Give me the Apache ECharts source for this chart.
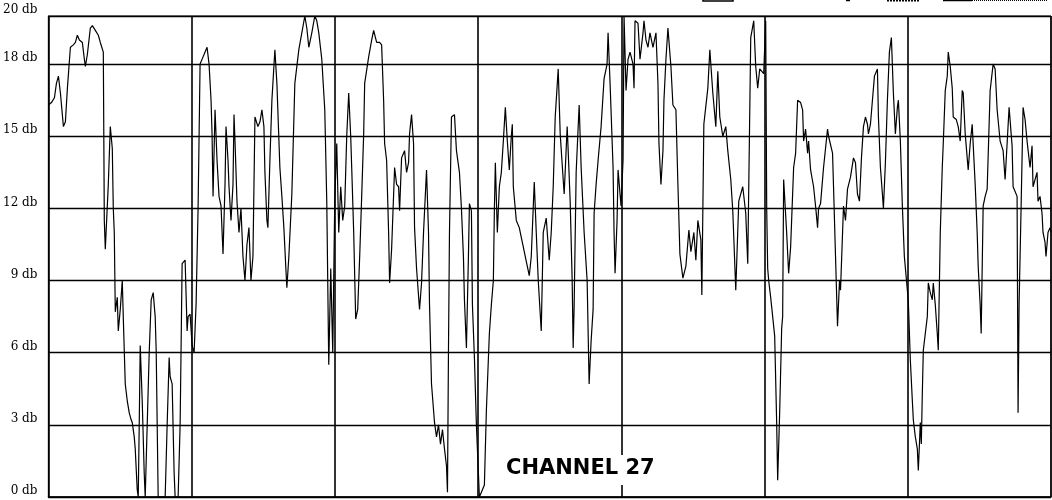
<!DOCTYPE html>
<html>
<head>
<meta charset="utf-8">
<script src="https://cdn.jsdelivr.net/npm/echarts@6/dist/echarts.min.js"></script>
<style>html,body{margin:0;padding:0;background:#fff}#c{width:1052px;height:500px}</style>
</head>
<body>
<div id="c"></div>
<script>
// Signal level trace: [sweep position, level dB]
// sweep runs 0..1005 over 7 grid divisions
const div1 = [[0,16.3],[3,16.4],[6,16.6],[8,17.2],[10,17.5],[12,16.8],[15,15.4],[17,15.6],[19,17.0],[22,18.7],[25,18.8],[27,18.9],[29,19.2],[31,19.0],[34,18.9],[36,18.2],[37,17.9],[39,18.4],[42,19.5],[44,19.6],[47,19.4],[50,19.2],[52,18.9],[55,18.5],[56,11.5],[57,10.3],[60,13.0],[62,15.4],[64,14.5],[65,12.0],[66,11.0],[67,7.7],[69,8.3],[70,6.9],[72,7.8],[74,9.0],[75,7.5],[76,6.1],[77,4.7],[79,4.0],[81,3.5],[83,3.2],[84,3.1],[86,2.5],[87,2.0],[89,0.3],[90,0],[91,3.0],[92,6.3],[94,4.0],[96,1.0],[97,0],[99,0],[101,6.0],[103,8.2],[105,8.5],[107,7.5],[108,6.1],[110,0],[114,0],[117,0],[119,3.0],[121,5.8],[122,5.0],[124,4.7],[126,1.0],[127,0],[130,0],[132,3.0],[134,9.7],[137,9.85],[139,6.9],[140,7.5],[142,7.6]];
const div2 = [[144,6.3],[146,6.0],[148,8.0],[150,12.0],[152,18.0],[155,18.3],[157,18.5],[159,18.7],[161,18.0],[163,16.5],[164,15.1],[165,12.5],[167,16.1],[169,14.0],[171,12.5],[173,12.1],[175,10.1],[177,13.0],[178,15.4],[180,14.0],[181,12.9],[183,11.5],[185,13.0],[186,15.9],[187,14.8],[189,12.3],[191,11.0],[193,12.0],[195,10.0],[197,9.0],[199,10.5],[201,11.2],[203,9.0],[205,10.0],[207,15.8],[210,15.4],[212,15.6],[214,16.1],[216,15.4],[217,13.5],[219,11.5],[220,11.2],[222,14.0],[224,16.5],[227,18.6],[229,17.2],[232,13.7],[234,12.5],[236,11.2],[238,9.5],[239,8.7],[241,10.0],[244,12.6],[247,17.2],[251,18.6],[254,19.3],[257,20.0],[259,19.5],[261,18.7],[264,19.3],[267,20.0],[269,19.8],[271,19.3],[274,18.2],[277,16.1],[279,12.3],[281,5.5],[283,9.5],[285,6.0]];
const div3 = [[287,12.3],[289,14.7],[291,11.0],[293,12.9],[295,11.5],[297,12.1],[299,15.0],[301,16.8],[303,15.0],[304,13.7],[306,11.0],[308,7.4],[310,7.8],[312,10.0],[314,12.5],[316,15.1],[317,17.2],[321,18.3],[324,19.0],[326,19.4],[329,18.9],[332,18.9],[334,18.8],[336,16.5],[337,14.7],[339,14.0],[341,11.0],[342,8.9],[344,10.3],[347,13.7],[349,13.0],[351,12.9],[352,11.9],[354,14.1],[357,14.4],[359,13.5],[361,13.9],[362,15.1],[364,15.9],[366,14.7],[367,11.2],[369,9.5],[372,7.8],[374,8.9],[376,11.0],[379,13.6],[381,11.0],[382,8.0],[384,4.7],[387,3.1],[389,2.5],[391,3.0],[393,2.2],[395,2.8],[397,2.0],[399,1.3],[400,0.2],[401,6.1],[402,11.0],[404,15.8],[407,15.9],[409,14.4],[412,13.5],[414,12.0],[416,10.0],[417,8.2],[419,6.2],[421,10.0],[422,12.2],[424,11.9],[425,8.0],[427,5.8],[429,3.0]];
const div4 = [[431,1.0],[432,0],[434,0.2],[437,0.5],[439,3.6],[442,6.8],[444,8.0],[446,9.0],[447,11.9],[448,13.9],[450,11.0],[452,12.9],[454,13.5],[456,14.8],[458,16.2],[460,14.8],[462,13.6],[464,15.0],[465,15.5],[466,12.9],[469,11.5],[472,11.2],[474,10.8],[476,10.4],[479,9.8],[482,9.2],[484,10.0],[487,13.1],[489,11.0],[491,9.0],[494,6.9],[496,11.0],[499,11.6],[502,9.85],[504,11.0],[506,12.9],[508,15.8],[511,17.8],[513,15.1],[516,13.2],[517,12.6],[520,15.4],[521,14.4],[523,12.3],[525,9.0],[526,6.2],[527,8.0],[529,13.5],[532,16.3],[534,13.7],[537,11.0],[540,9.0],[542,4.7],[544,6.5],[546,7.8],[547,11.8],[549,13.0],[551,14.0],[554,15.4],[557,17.4],[560,18.0],[561,19.3],[563,17.2],[566,13.7],[567,11.0],[568,9.3],[570,11.5],[571,13.6],[574,12.1]];
const div5 = [[576,14.0],[577,20.0],[579,16.9],[581,18.2],[583,18.5],[586,18.0],[587,17.0],[588,19.8],[591,19.7],[593,18.2],[596,19.3],[597,19.8],[599,19.0],[601,18.7],[603,19.3],[606,18.7],[609,19.3],[611,17.2],[612,14.7],[614,13.0],[616,14.4],[617,16.5],[619,18.2],[621,19.5],[624,17.9],[626,16.3],[629,16.1],[631,13.0],[633,10.1],[636,9.1],[639,9.6],[642,11.1],[644,10.2],[647,11.0],[649,9.85],[651,11.5],[654,10.7],[655,8.4],[657,15.5],[661,17.0],[663,18.6],[666,16.8],[669,15.4],[671,17.7],[673,15.8],[676,15.0],[679,15.4],[681,14.4],[684,13.2],[686,11.9],[689,8.6],[692,12.3],[696,12.9],[699,11.8],[701,9.7],[704,19.1],[707,19.8],[709,17.9],[711,17.0],[713,17.8],[717,17.6]];
const div6 = [[719,19.8],[720,12.0],[721,9.5],[722,9.0],[724,8.3],[726,8.3],[728,6.7],[730,3.1],[731,0.7],[733,3.5],[735,7.0],[736,7.5],[737,13.2],[740,11.0],[742,9.3],[744,10.4],[747,13.7],[749,14.3],[751,16.5],[754,16.4],[756,16.1],[757,14.8],[759,15.3],[761,14.3],[762,14.8],[764,13.6],[767,12.9],[769,12.1],[771,11.2],[772,12.0],[774,12.2],[777,13.7],[779,14.5],[781,15.3],[782,15.0],[784,15.0],[786,14.3],[787,12.9],[789,10.0],[791,7.1],[793,9.0],[794,8.6],[797,12.1],[799,11.5],[801,12.8],[804,13.3],[807,14.1],[809,13.9],[811,12.6],[813,12.3],[815,14.1],[817,15.4],[819,15.8],[821,15.5],[822,15.1],[824,15.5],[826,16.5],[828,17.5],[831,17.8],[832,15.8],[834,13.7],[836,12.6],[837,12.0],[839,13.9],[841,16.5],[843,18.5],[845,19.1],[847,16.8],[849,15.1],[851,16.2],[852,16.5],[854,14.8],[856,12.1],[858,10.0]];
const div7 = [[861,8.6],[862,8.1],[864,5.7],[866,4.0],[867,3.2],[869,2.5],[871,2.0],[872,1.1],[874,3.1],[875,2.2],[876,4.3],[877,6.1],[879,6.8],[881,7.5],[882,8.9],[884,8.5],[886,8.2],[887,8.9],[889,8.0],[891,6.8],[892,6.1],[894,11.0],[896,13.7],[897,14.7],[899,16.9],[901,17.5],[902,18.5],[904,17.9],[906,17.0],[907,15.8],[910,15.7],[912,15.4],[914,14.8],[916,16.9],[917,16.8],[919,15.1],[921,14.1],[922,13.6],[924,14.7],[926,15.5],[929,13.0],[931,11.0],[932,9.6],[934,8.0],[935,6.8],[937,12.1],[939,12.5],[941,12.8],[944,16.9],[947,18.0],[949,17.8],[951,16.1],[954,14.8],[957,14.4],[959,13.2],[961,14.7],[963,16.2],[966,14.6],[967,12.9],[969,12.7],[971,12.5],[972,3.5],[973,8.0],[975,12.0],[977,16.2],[979,15.7],[981,14.8],[984,13.7],[986,14.6],[987,12.9],[989,13.2],[991,13.5],[992,12.3],[994,12.5],[996,11.8],[997,11.0],[999,10.6],[1000,10.0],[1002,11.0],[1004,11.2],[1005,11.0]];

const sweepMax = 1005;
const sweepDivisions = 7;
const levelMin = 0, levelMax = 20, levelStep = 3;
const levelUnit = ' db';
const channelLabel = 'CHANNEL 27';

const trace = [].concat(div1, div2, div3, div4, div5, div6, div7);

const chart = echarts.init(document.getElementById('c'), null, {renderer: 'canvas'});
chart.setOption({
  animation: false,
  backgroundColor: '#ffffff',
  grid: {left: 46, right: 1, top: 16, bottom: 3, show: true, borderColor: '#000', borderWidth: 1, backgroundColor: 'transparent'},
  title: {
    text: channelLabel, left: 502, top: 455, padding: [3, 4, 6, 4],
    backgroundColor: '#ffffff',
    textStyle: {fontFamily: 'DejaVu Sans', fontSize: 21, fontWeight: 'bold', color: '#000'}
  },
  xAxis: {
    type: 'value', min: 0, max: sweepMax, interval: sweepMax / sweepDivisions,
    axisLabel: {show: false}, axisTick: {show: false},
    axisLine: {show: true, lineStyle: {color: '#000', width: 1.5}},
    splitLine: {show: true, lineStyle: {color: '#000', width: 1.6}}
  },
  yAxis: {
    type: 'value', min: levelMin, max: levelMax, interval: levelStep,
    axisTick: {show: false},
    axisLine: {show: true, lineStyle: {color: '#000', width: 1.2}},
    splitLine: {show: true, lineStyle: {color: '#000', width: 1.3}},
    axisLabel: {
      formatter: v => v + levelUnit, margin: 11, color: '#000',
      fontFamily: 'DejaVu Serif', fontSize: 12, verticalAlign: 'bottom'
    }
  },
  series: [{
    type: 'line', data: trace, showSymbol: false, symbol: 'none',
    lineStyle: {color: '#000', width: 1.2}, clip: true, z: 3
  }],
  graphic: [
    {type: 'rect', shape: {x: 703, y: -8, width: 30, height: 9}, style: {fill: 'none', stroke: '#000', lineWidth: 1.5}, silent: true},
    {type: 'line', shape: {x1: 846, y1: 0.5, x2: 850, y2: 0.5}, style: {stroke: '#000', lineWidth: 1.5}, silent: true},
    {type: 'line', shape: {x1: 887, y1: 0.5, x2: 920, y2: 0.5}, style: {stroke: '#000', lineWidth: 2, lineDash: [2, 1]}, silent: true},
    {type: 'line', shape: {x1: 943, y1: 0.5, x2: 972, y2: 0.5}, style: {stroke: '#000', lineWidth: 1.5}, silent: true},
    {type: 'line', shape: {x1: 972, y1: 0.5, x2: 1047, y2: 0.5}, style: {stroke: '#000', lineWidth: 1, lineDash: [1, 1]}, silent: true}
  ]
});
</script>
</body>
</html>
